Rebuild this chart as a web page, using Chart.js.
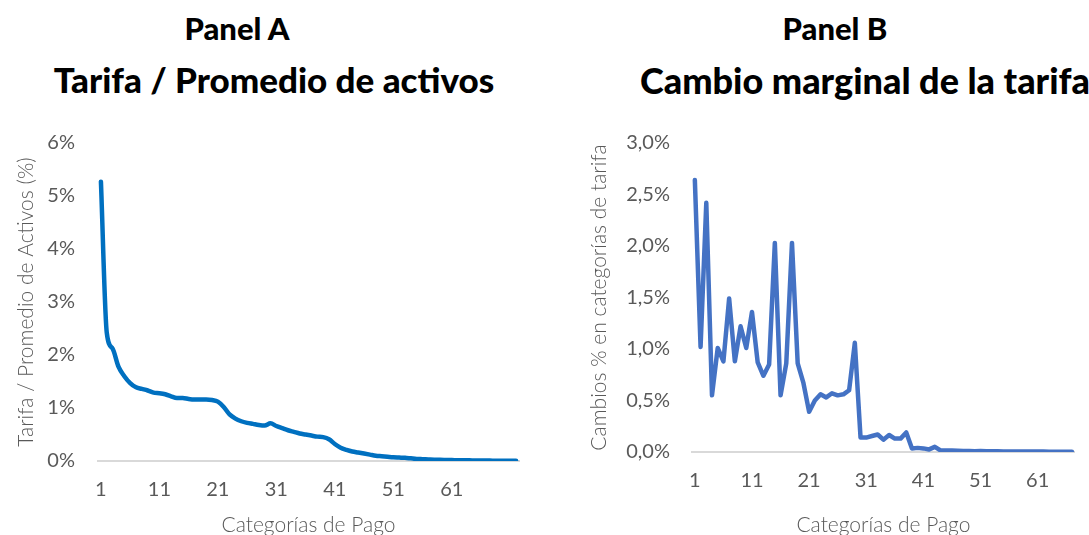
<!DOCTYPE html>
<html>
<head>
<meta charset="utf-8">
<script src="https://cdn.jsdelivr.net/npm/chart.js@4"></script>
<style>
  html, body { margin: 0; padding: 0; background: #fff; }
  body { width: 1089px; height: 535px; position: relative; overflow: hidden; font-family: Lato, sans-serif; }
  .t { position: absolute; white-space: nowrap; font-weight: 900; color: #000; line-height: 1; }
  .c { transform: translateX(-50%); }
  canvas { position: absolute; }
</style>
</head>
<body>
<div class="t c" style="left:237px; top:13px; font-size:31px;">Panel A</div>
<div class="t c" style="left:274px; top:62px; font-size:35px;">Tarifa / Promedio de activos</div>
<div class="t c" style="left:835px; top:13px; font-size:31px;">Panel B</div>
<div class="t" style="left:640px; top:62px; font-size:36px;">Cambio marginal de la tarifa</div>

<canvas id="panelA" width="545" height="405" style="left:0; top:130px;"></canvas>
<canvas id="panelB" width="544" height="405" style="left:545px; top:130px;"></canvas>

<script>
// Panel A: tarifa / promedio de activos (%), one value per categoría de pago
const tarifaA = [5.27, 2.42, 2.12, 1.78, 1.60, 1.47, 1.39, 1.36, 1.33, 1.29,
  1.28, 1.26, 1.22, 1.19, 1.19, 1.17, 1.16, 1.16, 1.16, 1.15,
  1.12, 1.02, 0.88, 0.80, 0.75, 0.72, 0.70, 0.68, 0.67, 0.71,
  0.66, 0.62, 0.58, 0.55, 0.52, 0.50, 0.48, 0.46, 0.45, 0.41,
  0.32, 0.25, 0.21, 0.18, 0.16, 0.14, 0.12, 0.10, 0.09, 0.08,
  0.07, 0.065, 0.06, 0.05, 0.04, 0.035, 0.03, 0.025, 0.022, 0.02,
  0.018, 0.015, 0.013, 0.012, 0.01, 0.009, 0.008, 0.007, 0.006, 0.005,
  0.005, 0.004];

// Panel B: cambio marginal de la tarifa (%)
const cambioB = [2.64, 1.02, 2.42, 0.55, 1.01, 0.88, 1.49, 0.88, 1.22, 1.01,
  1.36, 0.87, 0.74, 0.85, 2.03, 0.55, 0.86, 2.03, 0.86, 0.67,
  0.39, 0.50, 0.56, 0.53, 0.57, 0.55, 0.56, 0.60, 1.06, 0.14,
  0.14, 0.155, 0.17, 0.12, 0.165, 0.13, 0.13, 0.19, 0.035, 0.04,
  0.035, 0.025, 0.05, 0.015, 0.015, 0.015, 0.012, 0.01, 0.01, 0.008,
  0.01, 0.008, 0.007, 0.007, 0.006, 0.006, 0.005, 0.005, 0.005, 0.004,
  0.004, 0.004, 0.003, 0.003, 0.003, 0.002, 0.002];

const categoriasA = tarifaA.map((v, i) => String(i + 1));
const categoriasB = cambioB.map((v, i) => String(i + 1));

const grey = '#595959';
const tickFont = { family: 'Lato', size: 20, weight: 400 };
const titleFont = { family: 'Lato', size: 21, weight: 300 };

function xAxis(height) {
  return {
    offset: true,
    grid: { display: false, drawTicks: false },
    border: { display: true, color: '#d9d9d9', width: 2 },
    ticks: {
      autoSkip: false, maxRotation: 0, color: grey, font: tickFont, padding: 17,
      // every 10th category, up to 61
      callback: function (v, i) { return i % 10 === 0 && i <= 60 ? this.getLabelForValue(v) : ''; }
    },
    title: { display: true, text: 'Categorías de Pago', color: grey, font: titleFont, padding: { top: 0, bottom: -3 } },
    afterFit: s => { s.height = height; }
  };
}

function yAxis(max, step, width, fmt, text, titlePad, tickPad) {
  return {
    min: 0, max: max,
    grid: { display: false, drawTicks: false },
    border: { display: false },
    ticks: { stepSize: step, color: grey, font: tickFont, padding: tickPad, callback: fmt },
    title: { display: true, text: text, color: grey, font: titleFont, padding: { top: titlePad } },
    afterFit: s => { s.width = width; s.paddingTop = 8; s.paddingBottom = 8; }
  };
}

// Panel A
new Chart(document.getElementById('panelA'), {
  type: 'line',
  data: {
    labels: categoriasA,
    datasets: [{
      data: tarifaA, borderColor: '#0070C0', borderWidth: 4.5, pointRadius: 0,
      cubicInterpolationMode: 'monotone', borderJoinStyle: 'round', borderCapStyle: 'round'
    }]
  },
  options: {
    responsive: false, animation: false,
    layout: { padding: { top: 13, right: 26, bottom: 0, left: 0 } },
    plugins: { legend: { display: false }, tooltip: { enabled: false } },
    scales: {
      x: xAxis(74),
      y: yAxis(6, 1, 98, v => v + '%', 'Tarifa / Promedio de Activos (%)', 14, 23)
    }
  }
});

// Panel B
new Chart(document.getElementById('panelB'), {
  type: 'line',
  data: {
    labels: categoriasB,
    datasets: [{
      data: cambioB, borderColor: '#4472C4', borderWidth: 4.5, pointRadius: 0,
      tension: 0, borderJoinStyle: 'round', borderCapStyle: 'round'
    }]
  },
  options: {
    responsive: false, animation: false,
    layout: { padding: { top: 13, right: 8, bottom: 0, left: 0 } },
    plugins: { legend: { display: false }, tooltip: { enabled: false } },
    scales: {
      x: xAxis(83),
      y: yAxis(3, 0.5, 147, v => v.toFixed(1).replace('.', ',') + '%', 'Cambios % en categorías de tarifa', 42, 22)
    }
  }
});
</script>
</body>
</html>
